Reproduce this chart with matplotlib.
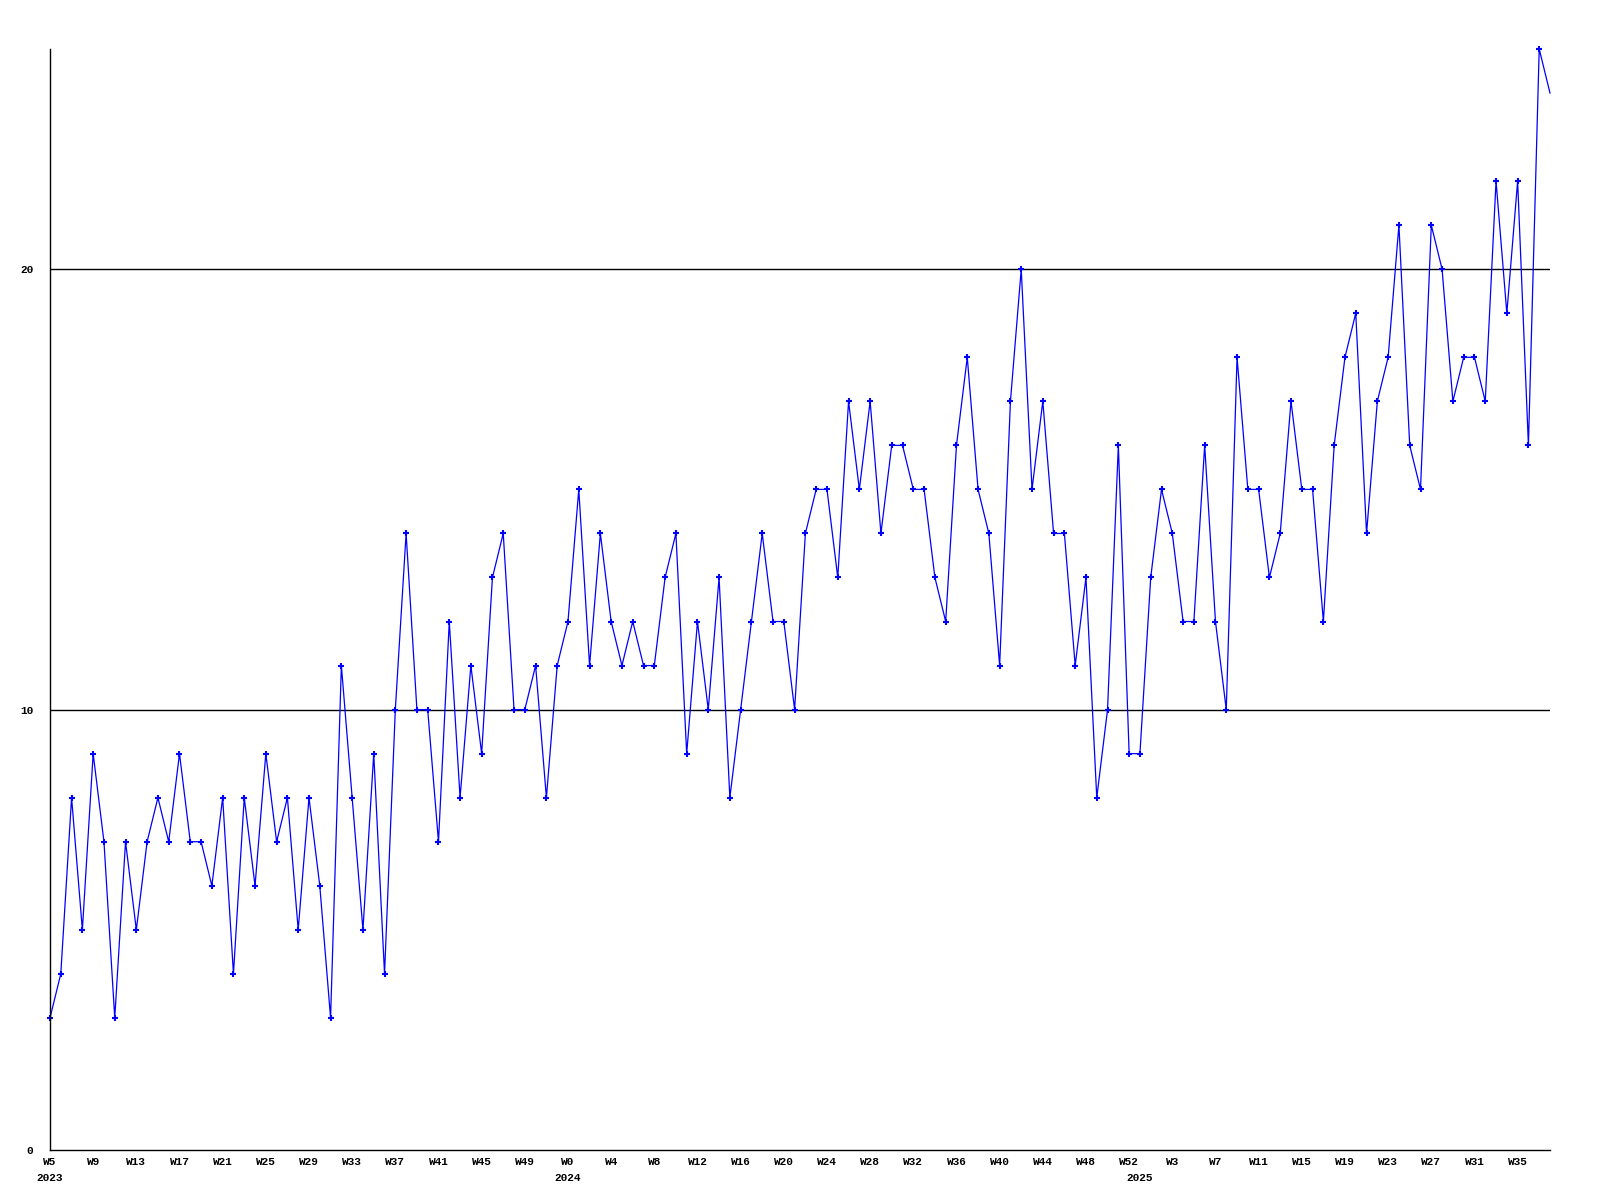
import matplotlib
matplotlib.use("Agg")
import matplotlib.pyplot as plt
import matplotlib.transforms as mtransforms

# weekly counts, W5 2023 .. W38 2025
values = [
    3, 4, 8, 5, 9, 7, 3, 7, 5, 7,
    8, 7, 9, 7, 7, 6, 8, 4, 8, 6,
    9, 7, 8, 5, 8, 6, 3, 11, 8, 5,
    9, 4, 10, 14, 10, 10, 7, 12, 8, 11,
    9, 13, 14, 10, 10, 11, 8, 11, 12, 15,
    11, 14, 12, 11, 12, 11, 11, 13, 14, 9,
    12, 10, 13, 8, 10, 12, 14, 12, 12, 10,
    14, 15, 15, 13, 17, 15, 17, 14, 16, 16,
    15, 15, 13, 12, 16, 18, 15, 14, 11, 17,
    20, 15, 17, 14, 14, 11, 13, 8, 10, 16,
    9, 9, 13, 15, 14, 12, 12, 16, 12, 10,
    18, 15, 15, 13, 14, 17, 15, 15, 12, 16,
    18, 19, 14, 17, 18, 21, 16, 15, 21, 20,
    17, 18, 18, 17, 22, 19, 22, 16, 25, 24,
]

week_labels = ["W5", "W9", "W13", "W17", "W21", "W25", "W29", "W33", "W37",
               "W41", "W45", "W49", "W0", "W4", "W8", "W12", "W16", "W20",
               "W24", "W28", "W32", "W36", "W40", "W44", "W48", "W52", "W3",
               "W7", "W11", "W15", "W19", "W23", "W27", "W31", "W35"]
year_labels = ["2023", "2024", "2025"]
year_pos = [0, 48, 101]

font = {"family": ["Liberation Mono", "DejaVu Sans Mono"], "weight": "bold", "size": 8}

fig = plt.figure(figsize=(16, 12), dpi=100)
ax = fig.add_axes([50 / 1600, 50 / 1200, 1500 / 1600, 1101 / 1200])

x = list(range(len(values)))
ax.plot(x, values, color="#0000ff", lw=0.9, clip_on=False)
# last (partial) week has no marker
ax.plot(x[:-1], values[:-1], ls="none", marker="+", ms=4.5, mew=1.5,
        color="#0000ff", clip_on=False)

ax.set_xlim(0, len(values) - 1)
ax.set_ylim(0, 25)

for v in (10, 20):
    ax.axhline(v, color="black", lw=1.0, zorder=0)

for s in ("top", "right"):
    ax.spines[s].set_visible(False)
for s in ("left", "bottom"):
    ax.spines[s].set_color("black")
    ax.spines[s].set_linewidth(1.0)

ax.set_yticks([0, 10, 20])
ax.set_yticklabels(["0", "10", "20"], fontdict=font)
ax.set_xticks(range(0, 4 * len(week_labels), 4))
ax.set_xticklabels(week_labels, fontdict=font)
ax.tick_params(axis="both", length=0)
ax.tick_params(axis="y", pad=12)
ax.tick_params(axis="x", pad=5)

trans = mtransforms.blended_transform_factory(ax.transData, ax.transAxes)
for pos, lab in zip(year_pos, year_labels):
    ax.text(pos, -0.0205, lab, transform=trans, ha="center", va="top", **font)

fig.savefig("out.png", dpi=100)
